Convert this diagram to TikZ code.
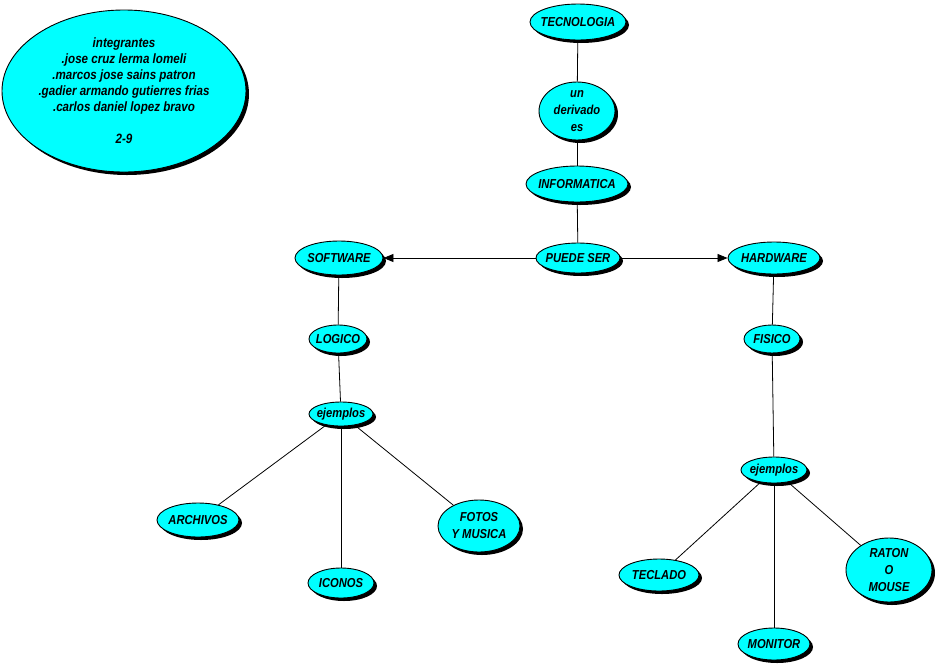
\documentclass[tikz,border=0pt]{standalone}
\usepackage{fontspec}
\setmainfont{Liberation Sans}[FakeStretch=0.86]
\usetikzlibrary{shapes.geometric,shadows,arrows.meta}

\definecolor{celeste}{RGB}{0,255,255}

\tikzset{
    concepto/.style={ellipse, draw=black, line width=0.9pt, fill=celeste,
        inner xsep=-40pt, inner ysep=-20pt, align=center,
        font=\fontsize{13}{17}\selectfont\bfseries\itshape,
        drop shadow={shadow xshift=3pt, shadow yshift=-3pt, fill=black, opacity=1}},
    enlace/.style={draw=black, line width=0.8pt},
    flecha/.style={enlace, -{Triangle[length=10pt,width=8pt]}}
}

\begin{document}
\begin{tikzpicture}[x=1pt, y=-1pt]
    \useasboundingbox (0,0) rectangle (937,670);

    \node[concepto, minimum width=244pt, minimum height=162pt,
        font=\fontsize{13.5}{16}\selectfont\bfseries\itshape] (grupo) at (124,91)
        {integrantes\\.jose cruz lerma lomeli\\.marcos jose sains patron\\
         .gadier armando gutierres frias\\.carlos daniel lopez bravo\\[16pt]2-9};

    \node[concepto, minimum width=96pt, minimum height=36pt] (tec) at (578,22) {TECNOLOGIA};
    \node[concepto, minimum width=76pt, minimum height=58pt] (der) at (577,111) {un\\derivado\\es};
    \node[concepto, minimum width=102pt, minimum height=36pt] (inf) at (577,184) {INFORMATICA};
    \node[concepto, minimum width=84pt, minimum height=30pt] (pue) at (578,258) {PUEDE SER};

    \node[concepto, minimum width=88pt, minimum height=34pt] (sof) at (339,258) {SOFTWARE};
    \node[concepto, minimum width=58pt, minimum height=28pt] (log) at (338,339) {LOGICO};
    \node[concepto, minimum width=64pt, minimum height=24pt] (ejl) at (341,414) {ejemplos};
    \node[concepto, minimum width=82pt, minimum height=34pt] (arc) at (198,520) {ARCHIVOS};
    \node[concepto, minimum width=66pt, minimum height=30pt] (ico) at (341,583) {ICONOS};
    \node[concepto, minimum width=82pt, minimum height=52pt] (fot) at (479,526) {FOTOS\\Y MUSICA};

    \node[concepto, minimum width=92pt, minimum height=32pt] (har) at (774,258) {HARDWARE};
    \node[concepto, minimum width=56pt, minimum height=28pt] (fis) at (772,339) {FISICO};
    \node[concepto, minimum width=66pt, minimum height=26pt] (ejr) at (774,470) {ejemplos};
    \node[concepto, minimum width=80pt, minimum height=32pt] (tcl) at (659,575) {TECLADO};
    \node[concepto, minimum width=72pt, minimum height=32pt] (mon) at (774,644) {MONITOR};
    \node[concepto, minimum width=86pt, minimum height=64pt] (rat) at (889,570) {RATON\\O\\MOUSE};

    \foreach \a/\b in {tec/der, der/inf, inf/pue, sof/log, log/ejl, ejl/arc, ejl/ico, ejl/fot,
                       har/fis, fis/ejr, ejr/tcl, ejr/mon, ejr/rat} {
        \draw[enlace] (\a) -- (\b);
    }

    \draw[flecha] (pue) -- (sof);
    \draw[flecha] (pue) -- (har);
\end{tikzpicture}
\end{document}
